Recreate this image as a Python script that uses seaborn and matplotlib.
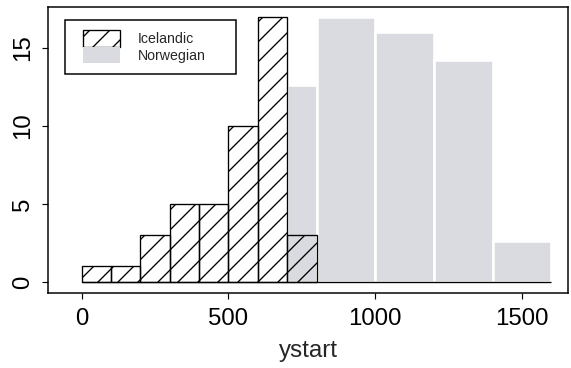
import matplotlib
matplotlib.use("Agg")
import matplotlib.pyplot as plt
from matplotlib.patches import Patch, Rectangle
import numpy as np
import seaborn as sns

# Icelandic start years, 100-year bins
ice_edges = [0, 100, 200, 300, 400, 500, 600, 700, 800]
ice_counts = [1, 1, 3, 5, 5, 10, 17, 3]

# Norwegian start years, wider bins (heights on the per-100-year scale)
nor_edges = [700, 800, 1000, 1200, 1400, 1600]
nor_heights = [12.6, 17.0, 16.0, 14.2, 2.6]

x_ticks = [0, 500, 1000, 1500]
y_ticks = [0, 5, 10, 15]
series_names = ["Icelandic", "Norwegian"]
x_label = "ystart"

sns.set_theme(style="white")
plt.rcParams["font.family"] = ["Liberation Sans", "DejaVu Sans"]
plt.rcParams["hatch.linewidth"] = 0.8
plt.rcParams["hatch.color"] = "black"

grey = "#d9dbe1"

fig = plt.figure(figsize=(571 / 120, 368 / 120), dpi=120)
ax = fig.add_axes([48 / 571, 1 - 293 / 368, 520 / 571, 286 / 368])

ice_mid = [(a + b) / 2 for a, b in zip(ice_edges[:-1], ice_edges[1:])]
nor_mid = [(a + b) / 2 for a, b in zip(nor_edges[:-1], nor_edges[1:])]

# Norwegian: light grey bars separated by white borders
sns.histplot(x=nor_mid, weights=nor_heights, bins=nor_edges, ax=ax,
             stat="count", facecolor=grey, edgecolor="white",
             linewidth=1.6, alpha=1)

# Icelandic: transparent bars with diagonal hatching
sns.histplot(x=ice_mid, weights=ice_counts, bins=ice_edges, ax=ax,
             stat="count", facecolor="none", edgecolor="black",
             linewidth=0.8, hatch="//")

ax.hlines(0, ice_edges[0], nor_edges[-1], color="black", linewidth=0.8)

ax.set_xlim(-115, 1657)
ax.set_ylim(-0.7, 17.62)
ax.set_xticks(x_ticks)
ax.set_yticks(y_ticks)
ax.set_xticklabels([str(v) for v in x_ticks])
ax.set_yticklabels([str(v) for v in y_ticks])
ax.set_xlabel(x_label, fontsize=14.5, labelpad=6)
ax.set_ylabel("")

ax.tick_params(axis="both", which="both", direction="out", length=3.6,
               width=0.7, color="black", labelsize=14.4, labelcolor="black",
               bottom=True, left=True)
ax.tick_params(axis="x", pad=5.5)
ax.tick_params(axis="y", pad=5)
for lab in ax.get_yticklabels():
    lab.set_rotation(90)
    lab.set_va("center")

for sp in ax.spines.values():
    sp.set_visible(True)
    sp.set_color("black")
    sp.set_linewidth(0.9)

# legend: handle height chosen so each key box is ~16.7 px tall
leg_fs = 8.5
fs_px = leg_fs * 120 / 72
key_h = (16.7 / fs_px - 0.245) / 0.65
handles = [
    Patch(facecolor="none", edgecolor="black", hatch="//", linewidth=0.8),
    Patch(facecolor=grey, edgecolor="none"),
]
leg = ax.legend(handles, series_names, loc="upper left",
                bbox_to_anchor=((83 - 48) / 520, (293 - 30) / 286),
                borderaxespad=0, borderpad=0, frameon=False, fontsize=leg_fs,
                handlelength=37 / fs_px, handleheight=key_h,
                labelspacing=0, handletextpad=18 / fs_px)
ax.add_patch(Rectangle(((65 - 48) / 520, (293 - 74) / 286),
                       (236 - 65) / 520, (74 - 20) / 286,
                       transform=ax.transAxes, facecolor="none",
                       edgecolor="black", linewidth=0.9, zorder=5))

fig.savefig("out.png", dpi=120)
